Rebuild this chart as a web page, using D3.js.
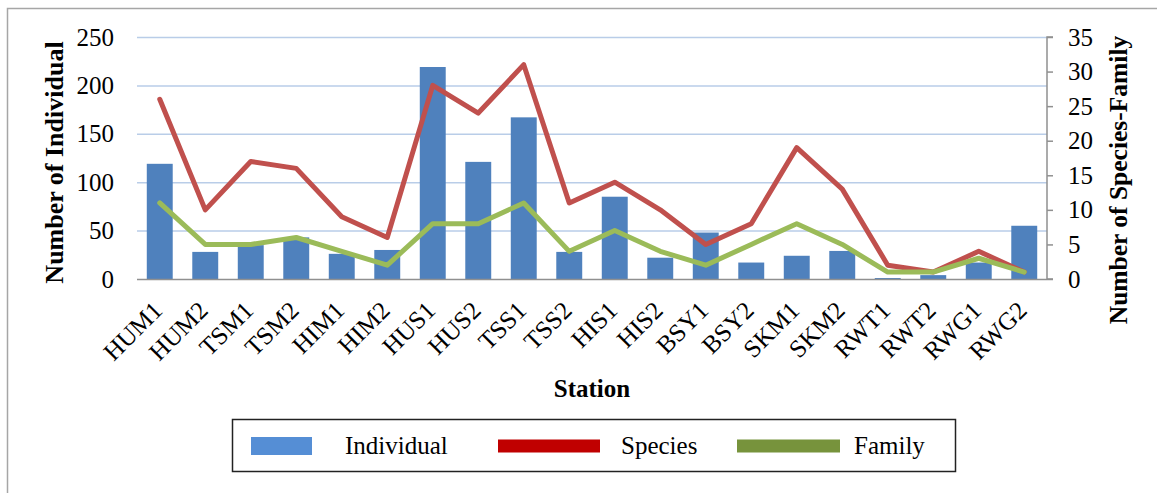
<!DOCTYPE html>
<html><head><meta charset="utf-8">
<script src="https://cdn.jsdelivr.net/npm/d3@7"></script>
<style>body{margin:0;background:#fff}svg{display:block}text{font-family:"Liberation Serif","Times New Roman",serif}</style>
</head><body>
<svg id="c" width="1157" height="493"></svg>
<script>
const stations=["HUM1","HUM2","TSM1","TSM2","HIM1","HIM2","HUS1","HUS2","TSS1","TSS2","HIS1","HIS2","BSY1","BSY2","SKM1","SKM2","RWT1","RWT2","RWG1","RWG2"];
const individual=[119,28,35,43,26,30,219,121,167,28,85,22,48,17,24,29,1,4,17,55];
const species=[26,10,17,16,9,6,28,24,31,11,14,10,5,8,19,13,2,1,4,1];
const family=[11,5,5,6,4,2,8,8,11,4,7,4,2,5,8,5,1,1,3,1];
const leftTicks=[0,50,100,150,200,250];
const rightTicks=[0,5,10,15,20,25,30,35];
const legendItems=["Individual","Species","Family"];

const svg=d3.select("#c");
const L=137,R=1047,T=37,B=279;
const FS=25;
// frame
svg.append("path").attr("d","M7.5,493 L7.5,8.5 L1157,8.5").attr("fill","none").attr("stroke","#a6a6a6").attr("stroke-width",1.5);

const x=d3.scaleBand().domain(stations).range([L,R]).paddingInner(0.43).paddingOuter(0.215);
const xc=d3.scalePoint().domain(stations).range([L,R]).padding(0.5);
const yL=d3.scaleLinear().domain([0,250]).range([B,T]);
const yR=d3.scaleLinear().domain([0,35]).range([B,T]);

// gridlines
svg.append("g").selectAll("line").data(leftTicks.slice(1)).join("line")
 .attr("x1",L).attr("x2",R).attr("y1",d=>yL(d)+0.5).attr("y2",d=>yL(d)+0.5)
 .attr("stroke","#b9cde8").attr("stroke-width",1.5);

// bars
svg.append("g").selectAll("rect").data(individual).join("rect")
 .attr("x",(d,i)=>x(stations[i])).attr("width",x.bandwidth())
 .attr("y",d=>yL(d)).attr("height",d=>B-yL(d)).attr("fill","#4f81bd");

// bottom axis line
svg.append("line").attr("x1",L).attr("x2",R).attr("y1",B+0.5).attr("y2",B+0.5).attr("stroke","#909090").attr("stroke-width",1.5);

// lines
const lineGen=s=>d3.line().x((d,i)=>xc(stations[i])).y(d=>yR(d))(s);
svg.append("path").attr("d",lineGen(species)).attr("fill","none").attr("stroke","#c0504d").attr("stroke-width",5).attr("stroke-linejoin","round").attr("stroke-linecap","round");
svg.append("path").attr("d",lineGen(family)).attr("fill","none").attr("stroke","#9bbb59").attr("stroke-width",5).attr("stroke-linejoin","round").attr("stroke-linecap","round");

// left axis labels
const gl=svg.append("g").attr("transform",`translate(${L},0)`).call(d3.axisLeft(yL).tickValues(leftTicks).tickSize(0).tickPadding(23));
gl.select(".domain").remove();
gl.selectAll("text").attr("font-size",FS).attr("fill","#000").style("font-family","Liberation Serif");

// right axis
const gr=svg.append("g").attr("transform",`translate(${R},0)`).call(d3.axisRight(yR).tickValues(rightTicks).tickSize(6).tickPadding(15));
gr.select(".domain").attr("stroke","#909090").attr("stroke-width",1.5).attr("d",`M6,${T}H0V${B}H6`);
gr.selectAll(".tick line").attr("stroke","#909090").attr("stroke-width",1.5);
gr.selectAll("text").attr("font-size",FS).attr("fill","#000").style("font-family","Liberation Serif");

// x labels
svg.append("g").selectAll("text").data(stations).join("text")
 .attr("transform",d=>`translate(${xc(d)+4},312) rotate(-45)`)
 .attr("text-anchor","end").attr("font-size",FS).text(d=>d);

// titles
svg.append("text").attr("x",592).attr("y",397).attr("text-anchor","middle").attr("font-size",25).attr("font-weight","bold").text("Station");
svg.append("text").attr("transform","translate(63,162.5) rotate(-90)").attr("text-anchor","middle").attr("font-size",26).attr("font-weight","bold").text("Number of Individual");
svg.append("text").attr("transform","translate(1127,180) rotate(-90)").attr("text-anchor","middle").attr("font-size",25.5).attr("font-weight","bold").text("Number of Species-Family");

// legend
const lg=svg.append("g");
lg.append("rect").attr("x",232.5).attr("y",419.5).attr("width",723).attr("height",52).attr("fill","none").attr("stroke","#222").attr("stroke-width",1.5);
const sw=[{x:251,w:61,h:18,c:"#558ed5",tx:345},{x:498,w:102,h:13,c:"#c00000",tx:621},{x:737,w:103,h:13,c:"#77933c",tx:854}];
sw.forEach((s,i)=>{
 lg.append("rect").attr("x",s.x).attr("y",446-s.h/2).attr("width",s.w).attr("height",s.h).attr("fill",s.c);
 lg.append("text").attr("x",s.tx).attr("y",454).attr("font-size",FS).text(legendItems[i]);
});
</script>
</body></html>
